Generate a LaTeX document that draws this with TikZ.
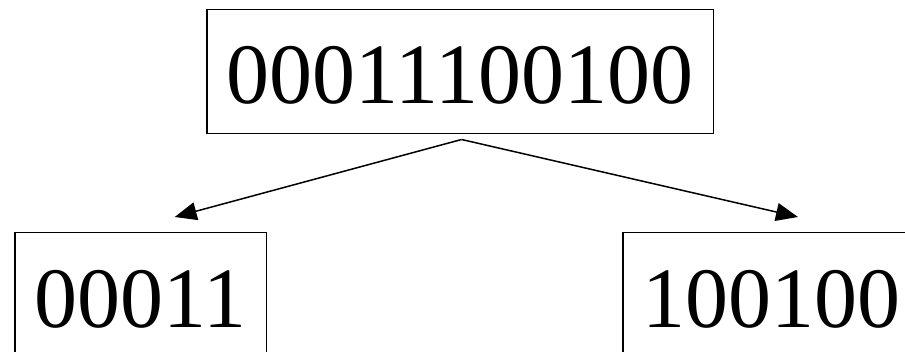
\documentclass[tikz,border=0pt]{standalone}
\usepackage{fontspec}
\setmainfont{Liberation Serif}
\newfontfamily\bitfont{Liberation Serif}
\usetikzlibrary{arrows.meta}
\tikzset{
    bitbox/.style={draw,line width=1.5pt,inner xsep=20pt,inner ysep=0pt,
        font=\bitfont\fontsize{86}{90}\selectfont,text height=94pt,text depth=30pt,anchor=north west},
    openbox/.style={bitbox,text height=95pt,text depth=90pt},
    split/.style={line width=1.5pt,-{Triangle[length=22pt,width=18pt]}}
}
\begin{document}
\begin{tikzpicture}[x=1pt,y=-1pt]
    \useasboundingbox (0,0) rectangle (905,352);
    %% Whole string
    \node[bitbox] (whole) at (206,9) {00011100100};
    %% Two halves
    \node[openbox] (lefthalf) at (14,232) {00011};
    \node[openbox] (righthalf) at (622,232) {100100};
    %% Arrow ends
    \coordinate (fork) at ([xshift=1.5pt,yshift=-5pt]whole.south);
    \coordinate (lefttip) at ([xshift=34pt,yshift=15pt]lefthalf.north);
    \coordinate (righttip) at ([xshift=798pt-622pt,yshift=15pt]righthalf.north west);
    \draw[split] (fork) -- (lefttip);
    \draw[split] (fork) -- (righttip);
\end{tikzpicture}
\end{document}
